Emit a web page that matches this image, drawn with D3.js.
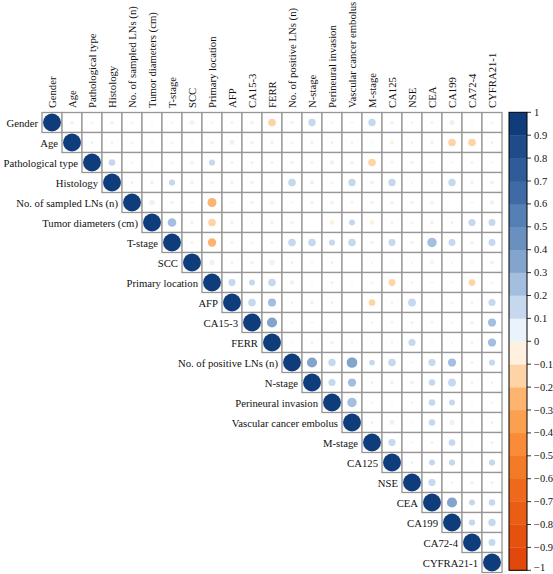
<!DOCTYPE html>
<html><head><meta charset="utf-8">
<script src="https://cdn.jsdelivr.net/npm/d3@7"></script>
<style>
html,body{margin:0;padding:0;background:#fff;}
svg{display:block;}
text{font-family:"Liberation Serif","DejaVu Serif",serif;fill:#111;}
</style></head>
<body>
<svg id="chart" width="553" height="574"></svg>
<script>
const variables = ["Gender","Age","Pathological type","Histology","No. of sampled LNs (n)","Tumor diameters (cm)","T-stage","SCC","Primary location","AFP","CA15-3","FERR","No. of positive LNs (n)","N-stage","Perineural invasion","Vascular cancer embolus","M-stage","CA125","NSE","CEA","CA199","CA72-4","CYFRA21-1"];

// upper-triangle correlations, row i lists columns i+1 .. 22
const rowGender = [0.04,-0.03,0.04,-0.03,0.01,-0.02,-0.07,-0.02,-0.03,-0.05,-0.18,0.04,0.17,-0.02,-0.02,0.17,0.04,0.02,-0.03,0.08,0.01,-0.03];
const rowAge = [0.03,-0.03,-0.03,0.01,-0.03,0.01,0.04,0.07,0.04,0.04,-0.03,-0.04,0.03,-0.03,-0.01,-0.05,0.02,0.04,-0.18,-0.18,0.03];
const rowPathType = [0.13,-0.02,0.01,-0.03,-0.05,0.12,0.03,0.03,0.03,-0.04,-0.03,0.06,0.04,-0.18,0.02,0.04,-0.02,0.01,-0.03,0.01];
const rowHistology = [0.03,0.05,0.12,-0.05,-0.04,-0.04,-0.05,-0.02,0.18,0.06,-0.03,0.17,0.05,0.17,-0.02,0.02,0.17,0.04,0.05];
const rowSampledLNs = [0.09,0.04,-0.02,-0.25,-0.02,-0.04,-0.05,0.01,-0.04,-0.05,0.02,-0.04,0.04,-0.04,-0.05,0.0,-0.02,0.06];
const rowTumorDiam = [0.23,-0.04,-0.18,-0.04,-0.02,-0.04,-0.04,0.0,-0.06,0.11,-0.06,0.03,-0.03,0.05,0.03,0.16,0.15];
const rowTStage = [-0.03,-0.22,-0.03,-0.03,-0.03,0.18,0.18,0.12,0.18,0.04,0.15,0.04,0.28,0.15,0.04,0.15];
const rowSCC = [0.09,0.03,0.04,0.09,0.03,-0.02,0.03,0.0,-0.02,-0.01,-0.02,-0.06,-0.02,-0.02,0.05];
const rowPrimary = [0.15,0.11,0.18,0.06,0.01,0.03,0.01,-0.03,-0.15,0.02,-0.02,0.01,-0.14,-0.03];
const rowAFP = [0.18,0.2,0.02,0.05,0.03,0.0,-0.14,-0.03,0.19,0.01,-0.03,0.03,0.16];
const rowCA153 = [0.32,-0.02,-0.02,-0.01,0.0,0.02,0.02,0.03,0.02,-0.02,0.04,0.21];
const rowFERR = [0.01,0.03,0.04,0.02,-0.02,0.02,0.16,0.01,-0.02,0.03,0.21];
const rowPositiveLNs = [0.32,0.17,0.35,0.1,0.18,0.01,0.16,0.21,0.03,0.12];
const rowNStage = [0.16,0.21,0.03,0.05,0.05,0.13,0.19,0.03,0.02];
const rowPerineural = [0.28,-0.02,0.01,0.02,0.13,0.11,0.01,-0.02];
const rowVascular = [0.03,0.07,-0.01,0.13,0.09,-0.01,0.03];
const rowMStage = [0.16,0.01,0.03,0.14,0.01,0.03];
const rowCA125 = [0.03,0.11,0.12,0.01,0.12];
const rowNSE = [0.16,0.02,0.04,0.03];
const rowCEA = [0.32,0.11,0.13];
const rowCA199 = [0.12,0.17];
const rowCA724 = [0.15];
const rowCYFRA = [];
const upperRows = [rowGender,rowAge,rowPathType,rowHistology,rowSampledLNs,rowTumorDiam,rowTStage,rowSCC,rowPrimary,rowAFP,rowCA153,rowFERR,rowPositiveLNs,rowNStage,rowPerineural,rowVascular,rowMStage,rowCA125,rowNSE,rowCEA,rowCA199,rowCA724,rowCYFRA];

// palette from -1 to 1 (20 bins)
const negColors = ["#E2470B","#E5520F","#E95D14","#EE691B","#F37A27","#F88C38","#FBA04F","#FDB46E","#FED3A6","#FFF0E0"];
const posColors = ["#EAF3FB","#C5D8EE","#A3BEDF","#82A4CD","#6A90C0","#5580B6","#3E6BA5","#2F5C98","#1F4B89","#0F3C7B"];
const legendTicks = [1,0.9,0.8,0.7,0.6,0.5,0.4,0.3,0.2,0.1,0,-0.1,-0.2,-0.3,-0.4,-0.5,-0.6,-0.7,-0.8,-0.9,-1];
const legendTickLabels = ["1","0.9","0.8","0.7","0.6","0.5","0.4","0.3","0.2","0.1","0","\u22120.1","\u22120.2","\u22120.3","\u22120.4","\u22120.5","\u22120.6","\u22120.7","\u22120.8","\u22120.9","\u22121"];

const allColors = negColors.concat(posColors);
const color = d3.scaleQuantize().domain([-1,1]).range(allColors);

const cells = [];
upperRows.forEach((row,i)=>{
  cells.push({r:i,c:i,v:1});
  row.forEach((v,k)=>cells.push({r:i,c:i+1+k,v:v}));
});

const svg = d3.select("#chart");
const x = d3.scaleBand().domain(variables).range([42,502]);
const y = d3.scaleBand().domain(variables).range([112.5,572.5]);
const bw = x.bandwidth();
const rad = d3.scaleSqrt().domain([0,1]).range([0,0.45*bw]);

const g = svg.append("g");
g.selectAll("rect.cell").data(cells).join("rect")
  .attr("class","cell")
  .attr("x",d=>x(variables[d.c]))
  .attr("y",d=>y(variables[d.r]))
  .attr("width",bw).attr("height",y.bandwidth())
  .attr("fill","#fff").attr("stroke","#969696").attr("stroke-width",1.3);

g.selectAll("circle").data(cells.filter(d=>Math.abs(d.v)>0)).join("circle")
  .attr("cx",d=>x(variables[d.c])+bw/2)
  .attr("cy",d=>y(variables[d.r])+y.bandwidth()/2)
  .attr("r",d=>rad(Math.abs(d.v)))
  .attr("fill",d=>color(d.v));

const fs = "10.7px";
svg.append("g").selectAll("text").data(variables).join("text")
  .attr("x",(d)=>x(d)-4)
  .attr("y",d=>y(d)+y.bandwidth()/2)
  .attr("text-anchor","end").attr("dominant-baseline","central")
  .attr("font-size",fs).text(d=>d);

svg.append("g").selectAll("text").data(variables).join("text")
  .attr("transform",d=>`translate(${x(d)+bw/2+4},${108}) rotate(-90)`)
  .attr("text-anchor","start")
  .attr("font-size",fs).text(d=>d);

// legend
const ly = d3.scaleLinear().domain([1,-1]).range([112.3,570.3]);
const bins = d3.range(20).map(i=>({lo:-1+i*0.1,hi:-1+(i+1)*0.1,col:allColors[i]}));
const lg = svg.append("g");
lg.selectAll("rect").data(bins).join("rect")
  .attr("x",509).attr("width",18)
  .attr("y",d=>ly(d.hi)).attr("height",d=>ly(d.lo)-ly(d.hi)+0.3)
  .attr("fill",d=>d.col);
lg.append("rect").attr("x",509).attr("y",ly(1)).attr("width",18).attr("height",ly(-1)-ly(1))
  .attr("fill","none").attr("stroke","#000").attr("stroke-width",1);
lg.selectAll("line").data(legendTicks).join("line")
  .attr("x1",527).attr("x2",531).attr("y1",d=>ly(d)).attr("y2",d=>ly(d))
  .attr("stroke","#000").attr("stroke-width",0.8);
lg.selectAll("text").data(legendTicks).join("text")
  .attr("x",534).attr("y",d=>Math.min(ly(d),567.5)).attr("dominant-baseline","central")
  .attr("font-size","10.5px").text((d,i)=>legendTickLabels[i]);
</script>
</body></html>
